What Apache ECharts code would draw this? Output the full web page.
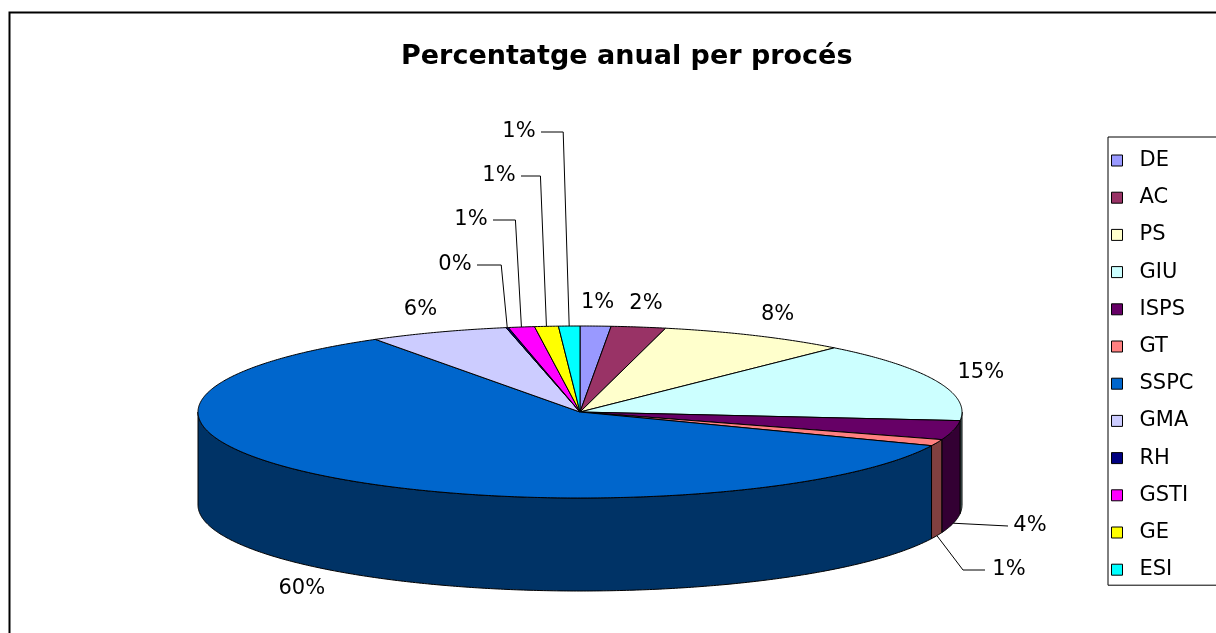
<!DOCTYPE html>
<html>
<head>
<meta charset="utf-8">
<script src="https://cdn.jsdelivr.net/npm/echarts@6/dist/echarts.min.js"></script>
<style>html,body{margin:0;padding:0;background:#fff;}#chart{width:1216px;height:633px;}</style>
</head>
<body>
<div id="chart"></div>
<script>
// ---- data ----
const categories = ['DE','AC','PS','GIU','ISPS','GT','SSPC','GMA','RH','GSTI','GE','ESI'];
const values = [1.3, 2.3, 8.0, 15.0, 3.6, 1.2, 59.6, 5.9, 0.1, 1.1, 1.0, 0.9];
const colors = ['#9999FF','#993366','#FFFFCC','#CCFFFF','#660066','#FF8080','#0066CC','#CCCCFF','#000080','#FF00FF','#FFFF00','#00FFFF'];
const titleText = 'Percentatge anual per procés';

// ---- layout (not data) ----
const geo = { cx: 580, cy: 412, rx: 382, ry: 86, depth: 93, lrx: 430, lry: 110 };
// manually placed labels with leader lines (as in the reference)
const leaderLabels = {
  RH:   { pos: [455, 265], anchor: 'top' },
  GSTI: { pos: [471, 220], anchor: 'top' },
  GE:   { pos: [499, 176], anchor: 'top' },
  ESI:  { pos: [519, 132], anchor: 'top' },
  ISPS: { pos: [1030, 526], anchor: 'bottom' },
  GT:   { pos: [1009, 570], anchor: 'bottom' }
};
const FONT = '"DejaVu Sans", "Liberation Sans", Arial, sans-serif';

const total = values.reduce((a, b) => a + b, 0);
const starts = [];
let acc = 0;
values.forEach(v => { starts.push(acc); acc += v; });

function shade(hex, f) {
  const n = parseInt(hex.slice(1), 16);
  const r = Math.round(((n >> 16) & 255) * f), g = Math.round(((n >> 8) & 255) * f), b = Math.round((n & 255) * f);
  return 'rgb(' + r + ',' + g + ',' + b + ')';
}
function pt(t, dy) {
  return [geo.cx + geo.rx * Math.sin(t), geo.cy - geo.ry * Math.cos(t) + (dy || 0)];
}
function arc(a, b, dy) {
  const pts = [];
  const n = Math.max(2, Math.ceil((b - a) / (Math.PI / 360)));
  for (let k = 0; k <= n; k++) pts.push(pt(a + (b - a) * k / n, dy));
  return pts;
}

function makeRender(i) {
  return function (params, api) {
    const v = api.value(0);
    const t1 = starts[i] / total * Math.PI * 2;
    const t2 = (starts[i] + v) / total * Math.PI * 2;
    const tm = (t1 + t2) / 2;
    const children = [];
    // side (front rim)
    const a = Math.max(t1, Math.PI / 2), b = Math.min(t2, Math.PI * 1.5);
    if (a < b) {
      const top = arc(a, b, 0);
      const bot = arc(a, b, geo.depth).reverse();
      children.push({
        type: 'polygon', shape: { points: top.concat(bot) },
        style: { fill: shade(colors[i], 0.5), stroke: '#000', lineWidth: 1 }
      });
    }
    // top face
    if (t2 > t1) {
      children.push({
        type: 'polygon', shape: { points: [[geo.cx, geo.cy]].concat(arc(t1, t2, 0)) },
        style: { fill: colors[i], stroke: '#000', lineWidth: 1 }
      });
    }
    // label
    const txt = Math.round(v / total * 100 + 1e-9) + '%';
    const ll = leaderLabels[categories[i]];
    let lx, ly;
    if (ll) {
      lx = ll.pos[0]; ly = ll.pos[1];
      const halfW = txt.length === 2 ? 18 : 24;
      let line;
      if (ll.anchor === 'top') {
        const an = pt(tm, 0);
        line = [[lx + halfW + 4, ly], [an[0] - 6, ly], an];
      } else {
        const an = pt(tm, geo.depth);
        if (Math.abs(ly - an[1]) > 15) {
          line = [[lx - halfW - 6, ly], [lx - halfW - 28, ly], an];
        } else {
          line = [[lx - halfW - 4, ly], an];
        }
      }
      children.push({
        type: 'polyline', shape: { points: line },
        style: { fill: null, stroke: '#000', lineWidth: 1 }, z2: 50
      });
    } else {
      const c = Math.cos(tm);
      lx = geo.cx + geo.lrx * Math.sin(tm);
      ly = geo.cy - geo.lry * c + (c < 0 ? geo.depth : 0);
    }
    children.push({
      type: 'text', z2: 60,
      style: { text: txt, x: lx, y: ly, align: 'center', verticalAlign: 'middle',
               font: '21px ' + FONT, fill: '#000' }
    });
    return { type: 'group', children: children };
  };
}

const series = categories.map((name, i) => ({
  type: 'custom',
  name: name,
  coordinateSystem: 'none',
  silent: true,
  itemStyle: { color: colors[i] },
  data: [[values[i]]],
  renderItem: makeRender(i)
}));

const chart = echarts.init(document.getElementById('chart'), null, { renderer: 'canvas' });
chart.setOption({
  animation: false,
  backgroundColor: '#ffffff',
  color: colors,
  title: {
    text: titleText, left: 396, top: 38,
    textStyle: { fontFamily: FONT, fontWeight: 'bold', fontSize: 27, color: '#000' }
  },
  legend: {
    data: categories,
    orient: 'vertical',
    left: 1108, top: 137,
    padding: [13, 80, 5, 3],
    borderColor: '#000', borderWidth: 1,
    icon: 'rect', itemWidth: 11, itemHeight: 11, itemGap: 16.2,
    selectedMode: false,
    itemStyle: { borderColor: '#000', borderWidth: 1 },
    textStyle: { fontFamily: FONT, fontSize: 21, lineHeight: 21, color: '#000', padding: [0, 0, 0, 12] }
  },
  graphic: [{
    type: 'rect', silent: true, z: -1,
    shape: { x: 9.5, y: 12.5, width: 1400, height: 800 },
    style: { fill: null, stroke: '#000', lineWidth: 2 }
  }],
  series: series
});
</script>
</body>
</html>
